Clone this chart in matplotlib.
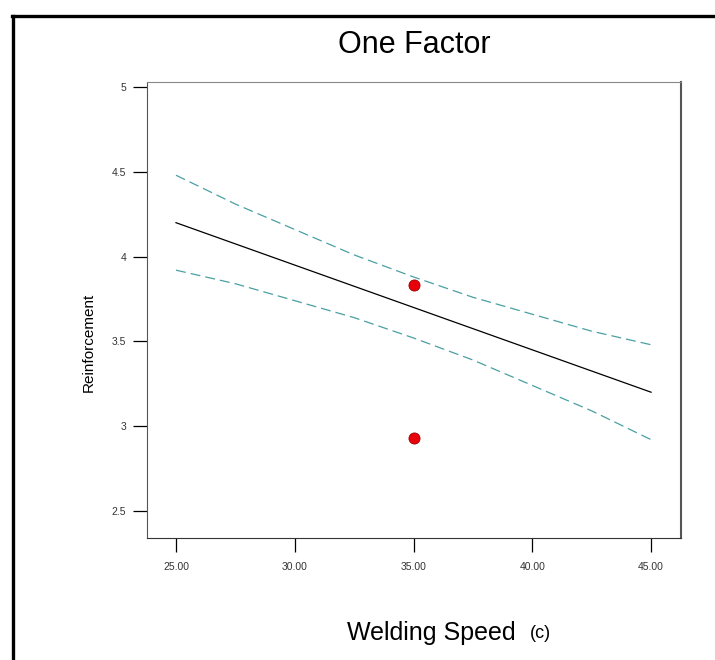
import numpy as np
from matplotlib import pyplot as plt
from matplotlib.lines import Line2D

plt.rcParams['font.family'] = ['Liberation Sans', 'DejaVu Sans']

# values
speed = [25.0, 27.5, 30.0, 32.5, 35.0, 37.5, 40.0, 42.5, 45.0]
fit = [4.20, 4.075, 3.95, 3.825, 3.70, 3.575, 3.45, 3.325, 3.20]
upper = [4.48, 4.31, 4.16, 4.01, 3.88, 3.76, 3.66, 3.56, 3.48]
lower = [3.92, 3.84, 3.74, 3.64, 3.52, 3.39, 3.24, 3.09, 2.92]
pts_x = [35.0, 35.0]
pts_y = [3.83, 2.93]
xticks = [25, 30, 35, 40, 45]
yticks = [2.5, 3, 3.5, 4, 4.5, 5]
ylabels = ['2.5', '3', '3.5', '4', '4.5', '5']

W, H = 715, 660
fig = plt.figure(figsize=(W / 100, H / 100), dpi=100)
ax = fig.add_axes([147 / W, (H - 538) / H, (681 - 147) / W, (538 - 82) / H])

ax.plot(speed, fit, color='black', lw=0.9)
ax.plot(speed, upper, color='#4a9fa3', lw=0.9, dashes=(8, 4))
ax.plot(speed, lower, color='#4a9fa3', lw=0.9, dashes=(8, 4))
ax.plot(pts_x, pts_y, 'o', color='#e8000b', mec='#a00000', mew=0.6, ms=8)

ax.set_xlim(23.78, 46.26)
ax.set_ylim(2.34, 5.03)
ax.set_xticks(xticks)
ax.set_xticklabels(['%.2f' % v for v in xticks])
ax.set_yticks(yticks)
ax.set_yticklabels(ylabels)
ax.tick_params(axis='both', direction='out', length=10, width=0.9,
               labelsize=7.5, labelcolor='#333333', color='black')
ax.tick_params(axis='y', pad=5)
ax.tick_params(axis='x', pad=7)

ax.spines['top'].set_color('#888888')
ax.spines['right'].set_color('#555555')
ax.spines['right'].set_linewidth(1.5)
ax.spines['left'].set_color('#555555')
ax.spines['bottom'].set_color('#333333')

fig.text(414 / W, 1 - 45 / H, 'One Factor', ha='center', va='center', fontsize=22)
fig.text(89 / W, 1 - 342 / H, 'Reinforcement', rotation=90, ha='center',
         va='center', fontsize=11)
fig.text(347 / W, 1 - 633 / H, 'Welding Speed', ha='left', va='center', fontsize=18)
fig.text(530 / W, 1 - 634 / H, '(c)', ha='left', va='center', fontsize=13)

# outer frame, cut on the right and bottom
fig.add_artist(Line2D([13 / W, 13 / W], [0, 1 - 16 / H], color='black', lw=2.4))
fig.add_artist(Line2D([12 / W, 1], [1 - 16 / H, 1 - 16 / H], color='black', lw=2.4))

fig.savefig('out.png', dpi=100)
